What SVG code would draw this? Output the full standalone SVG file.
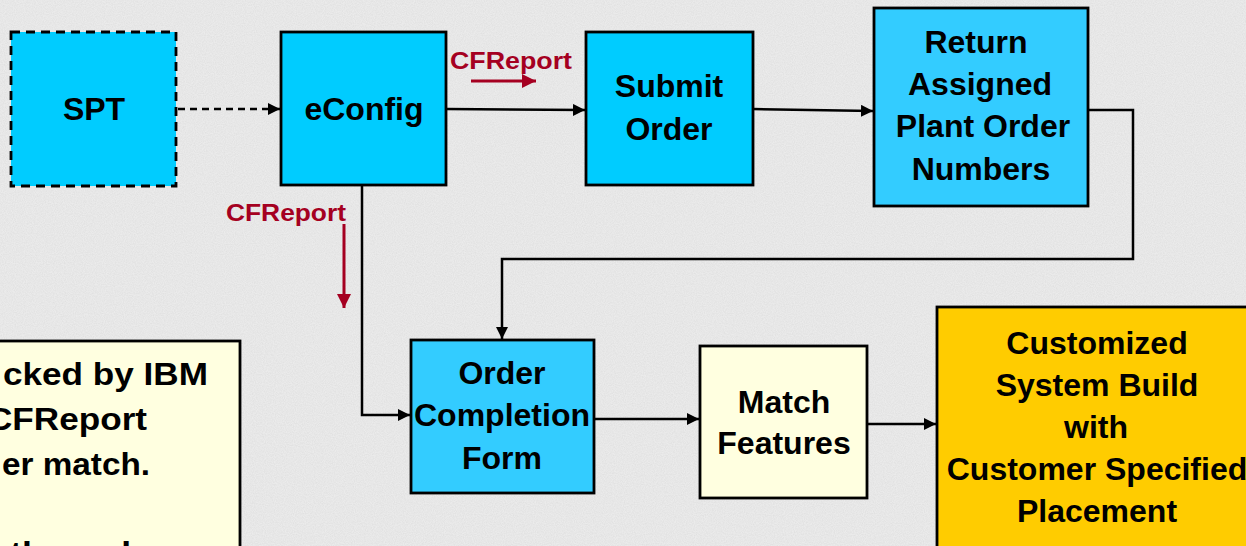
<svg xmlns="http://www.w3.org/2000/svg" width="1246" height="546" viewBox="0 0 1246 546">
  <defs>
    <marker id="ah" viewBox="0 0 12 12" refX="12" refY="6" markerWidth="12" markerHeight="12" markerUnits="userSpaceOnUse" orient="auto">
      <path d="M0,0 L12,6 L0,12 Z" fill="#000"/>
    </marker>
    <marker id="ahr" viewBox="0 0 14 14" refX="14" refY="7" markerWidth="14" markerHeight="14" markerUnits="userSpaceOnUse" orient="auto">
      <path d="M0,0 L14,7 L0,14 Z" fill="#A50021"/>
    </marker>
    <filter id="noise" x="0" y="0" width="100%" height="100%">
      <feTurbulence type="fractalNoise" baseFrequency="0.9" numOctaves="2" seed="3" result="t"/>
      <feColorMatrix in="t" type="matrix" values="0 0 0 0 0.55  0 0 0 0 0.55  0 0 0 0 0.55  0 0 0 -1.2 0.9"/>
    </filter>
  </defs>
  <style>
    .node rect { stroke: #000; stroke-width: 2.8; }
    .blue rect { fill: #00CCFF; }
    .lblue rect { fill: #33CCFF; }
    .cream rect { fill: #FFFFE0; }
    .gold rect { fill: #FFCC00; }
    text { font-family: "Liberation Sans", Arial, sans-serif; font-weight: bold; fill: #000; }
    .t { font-size: 32px; text-anchor: middle; }
    .note { font-size: 32px; }
    .red { font-size: 23px; fill: #A50021; }
    .conn path, .conn line { fill: none; stroke: #000; stroke-width: 2.5; }
    .conn .dash { stroke-dasharray: 7 5; }
    .conn .r { stroke: #A50021; stroke-width: 3; }
  </style>
  <rect x="0" y="0" width="1246" height="546" fill="#EBEBEB"/>
  <rect x="0" y="0" width="1246" height="546" filter="url(#noise)" opacity="0.35"/>

  <g id="note" class="node cream">
    <rect x="-10" y="341" width="250" height="220"/>
    <text class="note" x="3" y="385" textLength="205" lengthAdjust="spacingAndGlyphs">cked by IBM</text>
    <text class="note" x="-13" y="430" textLength="160" lengthAdjust="spacingAndGlyphs">CFReport</text>
    <text class="note" x="2" y="475" textLength="148" lengthAdjust="spacingAndGlyphs">er match.</text>
    <text class="note" x="10" y="564" textLength="155" lengthAdjust="spacingAndGlyphs">the order</text>
  </g>

  <g id="spt" class="node blue">
    <rect x="11" y="32" width="165" height="154" style="stroke-dasharray:9 6"/>
    <text class="t" x="94" y="120">SPT</text>
  </g>
  <g id="econfig" class="node blue">
    <rect x="281" y="32" width="165" height="153"/>
    <text class="t" x="364" y="120">eConfig</text>
  </g>
  <g id="submit" class="node blue">
    <rect x="586" y="32" width="167" height="153"/>
    <text class="t" x="669" y="97">Submit</text>
    <text class="t" x="669" y="140">Order</text>
  </g>
  <g id="return" class="node lblue">
    <rect x="874" y="8" width="214" height="198"/>
    <text class="t" x="976" y="53">Return</text>
    <text class="t" x="980" y="95">Assigned</text>
    <text class="t" x="983" y="137">Plant Order</text>
    <text class="t" x="981" y="180">Numbers</text>
  </g>
  <g id="ocf" class="node lblue">
    <rect x="411" y="340" width="183" height="153"/>
    <text class="t" x="502" y="384">Order</text>
    <text class="t" x="502" y="426">Completion</text>
    <text class="t" x="502" y="469">Form</text>
  </g>
  <g id="match" class="node cream">
    <rect x="700" y="346" width="167" height="152"/>
    <text class="t" x="784" y="413">Match</text>
    <text class="t" x="784" y="454">Features</text>
  </g>
  <g id="build" class="node gold">
    <rect x="937" y="307" width="320" height="250"/>
    <text class="t" x="1097" y="354">Customized</text>
    <text class="t" x="1097" y="396">System Build</text>
    <text class="t" x="1096" y="438">with</text>
    <text class="t" x="1097" y="480">Customer Specified</text>
    <text class="t" x="1097" y="522">Placement</text>
  </g>

  <g id="connectors" class="conn">
    <line class="dash" x1="178" y1="109" x2="280" y2="109" marker-end="url(#ah)"/>
    <line x1="446" y1="109" x2="585" y2="110" marker-end="url(#ah)"/>
    <line x1="753" y1="109" x2="873" y2="111" marker-end="url(#ah)"/>
    <path d="M1088,110 H1133 V259 H502 V339" marker-end="url(#ah)"/>
    <path d="M362,185 V415 H410" marker-end="url(#ah)"/>
    <line x1="594" y1="419" x2="699" y2="419" marker-end="url(#ah)"/>
    <line x1="867" y1="424" x2="936" y2="424" marker-end="url(#ah)"/>
    <line class="r" x1="471" y1="81" x2="536" y2="81" marker-end="url(#ahr)"/>
    <line class="r" x1="344" y1="224" x2="344" y2="308" marker-end="url(#ahr)"/>
    <text class="red" x="450" y="69" textLength="122" lengthAdjust="spacingAndGlyphs">CFReport</text>
    <text class="red" x="226" y="221" textLength="120" lengthAdjust="spacingAndGlyphs">CFReport</text>
  </g>
</svg>
